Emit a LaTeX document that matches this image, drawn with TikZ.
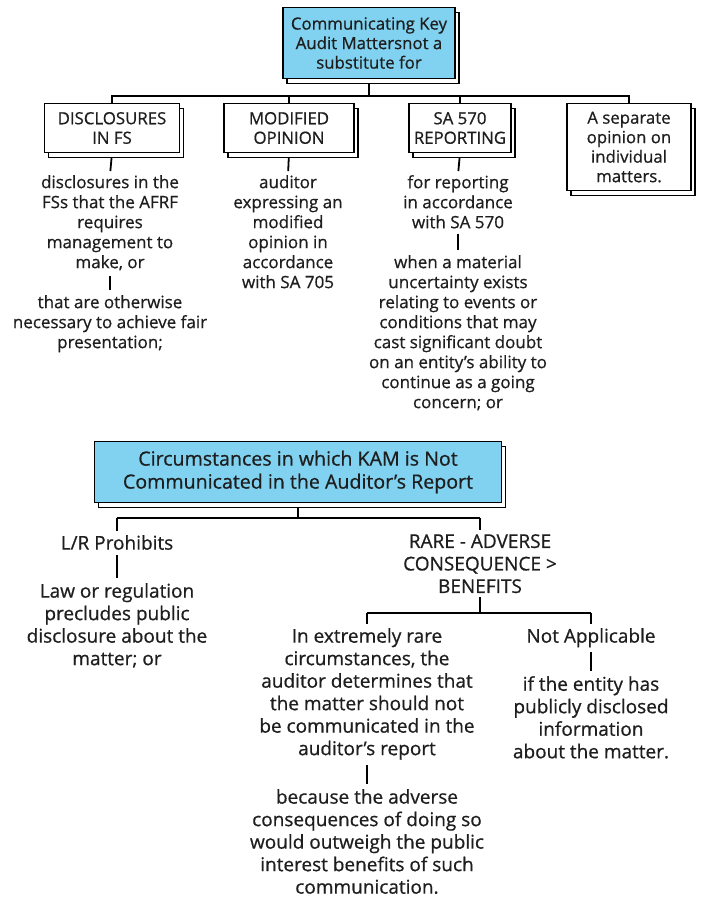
\documentclass[tikz,border=0pt]{standalone}
\usepackage{fontspec}
\setmainfont{Open Sans}[FakeBold=0.7]
\usetikzlibrary{shadows,backgrounds}
\definecolor{kblue}{HTML}{80D2F0}
\definecolor{ink}{HTML}{1E1E1E}
\tikzset{
  conn/.style={line width=1.8pt, black},
  wbox/.style={draw=black, line width=1.1pt, fill=white, align=center, text=ink,
    inner sep=1pt, font=\fontsize{16.8}{19.5}\selectfont,
    general shadow={draw=black, fill=white, line width=1.1pt, shadow xshift=4pt, shadow yshift=-5pt}},
  bbox/.style={wbox, fill=kblue},
  body/.style={align=center, inner sep=0pt, anchor=north, text=ink, font=\fontsize{17}{20}\selectfont},
  bodyL/.style={align=center, inner sep=0pt, anchor=north, text=ink, font=\fontsize{19}{22.5}\selectfont},
}
\begin{document}
\begin{tikzpicture}[x=1pt,y=-1pt]
\useasboundingbox (0,0) rectangle (702,898);
% ---------- top section ----------
\node[bbox, minimum width=172, minimum height=71] (top) at (369,43)
  {Communicating Key\\Audit Mattersnot a\\substitute for};
\node[wbox, minimum width=135, minimum height=49] (dfs) at (112,128) {DISCLOSURES\\IN FS};
\node[wbox, minimum width=130, minimum height=49] (mod) at (289,128) {MODIFIED\\OPINION};
\node[wbox, minimum width=102, minimum height=49] (sa) at (460,128) {SA 570\\REPORTING};
\node[wbox, minimum width=124, minimum height=87] (sep) at (629,147) {A separate\\opinion on\\individual\\matters.};
\coordinate (j1) at (370,96);

\node[body] (t1) at (110,175) {disclosures in the\\FSs that the AFRF\\requires\\management to\\make, or};
\node[body] (t1b) at (110,295) {that are otherwise\\necessary to achieve fair\\presentation;};
\node[body] (t2) at (288,175) {auditor\\expressing an\\modified\\opinion in\\accordance\\with SA 705};
\node[body] (t3) at (458,175) {for reporting\\in accordance\\with SA 570};
\node[body] (t3b) at (458,255) {when a material\\uncertainty exists\\relating to events or\\conditions that may\\cast significant doubt\\on an entity's ability to\\continue as a going\\concern; or};

% ---------- bottom section ----------
\node[bbox, minimum width=407, minimum height=61, font=\fontsize{19.6}{23}\selectfont] (kam) at (298,472)
  {Circumstances in which KAM is Not\\Communicated in the Auditor's Report};
\coordinate (j2) at (298,518);
\node[bodyL] (lr) at (117,535) {L/R Prohibits};
\node[bodyL] (lr2) at (117,583) {Law or regulation\\precludes public\\disclosure about the\\matter; or};
\node[bodyL] (rare) at (480,534) {RARE - ADVERSE\\CONSEQUENCE >\\BENEFITS};
\coordinate (j3) at (480,613);
\node[bodyL] (ext) at (367,628) {In extremely rare\\circumstances, the\\auditor determines that\\the matter should not\\be communicated in the\\auditor's report};
\node[bodyL] (bec) at (367,789) {because the adverse\\consequences of doing so\\would outweigh the public\\interest benefits of such\\communication.};
\node[bodyL] (na) at (591,628) {Not Applicable};
\node[bodyL] (na2) at (591,676) {if the entity has\\publicly disclosed\\information\\about the matter.};

\begin{scope}[on background layer]
  % top tree
  \draw[conn] (top.south) -- (top.south |- j1);
  \draw[conn] (dfs.north) -- (dfs.north |- j1) -- (sep.north |- j1) -- (sep.north);
  \draw[conn] (mod.north) -- (mod.north |- j1);
  \draw[conn] (sa.north) -- (sa.north |- j1);
  \draw[conn, shorten >=4pt] (dfs.south) -- (t1.north);
  \draw[conn, shorten >=4pt] (mod.south) -- (t2.north);
  \draw[conn, shorten >=4pt] (sa.south) -- (t3.north);
  \draw[conn, shorten <=5pt, shorten >=5pt] (t1.south) -- (t1b.north);
  \draw[conn, shorten <=5pt, shorten >=5pt] (t3.south) -- (t3b.north);
  % bottom tree
  \draw[conn] (kam.south) -- (j2);
  \draw[conn, shorten >=4pt] (lr.north |- j2) -- (lr.north);
  \draw[conn, shorten >=4pt] (rare.north |- j2) -- (rare.north);
  \draw[conn] (lr.north |- j2) -- (rare.north |- j2);
  \draw[conn, shorten <=5pt, shorten >=5pt] (lr.south) -- (lr2.north);
  \draw[conn, shorten <=4pt] (rare.south) -- (j3);
  \draw[conn] (ext.north |- j3) -- (na.north |- j3);
  \draw[conn, shorten >=4pt] (ext.north |- j3) -- (ext.north);
  \draw[conn, shorten >=4pt] (na.north |- j3) -- (na.north);
  \draw[conn, shorten <=5pt, shorten >=5pt] (ext.south) -- (bec.north);
  \draw[conn, shorten <=5pt, shorten >=5pt] (na.south) -- (na2.north);
\end{scope}
\end{tikzpicture}
\end{document}
